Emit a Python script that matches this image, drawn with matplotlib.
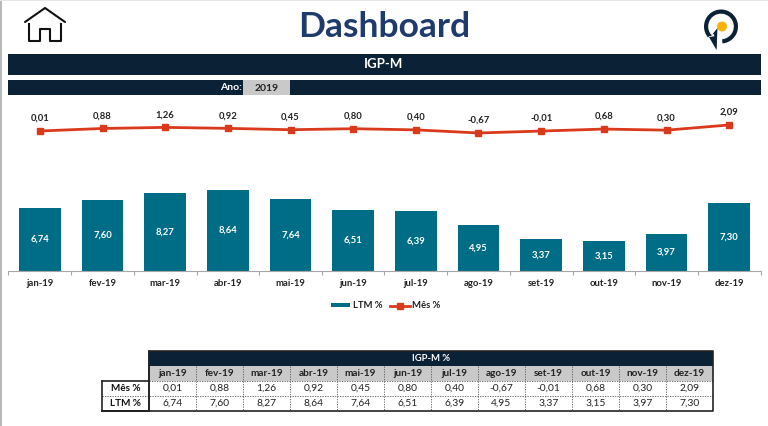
import matplotlib
matplotlib.use("Agg")
import matplotlib.pyplot as plt
from matplotlib.patches import Rectangle, Wedge, Polygon, Circle

months = ["jan-19","fev-19","mar-19","abr-19","mai-19","jun-19","jul-19","ago-19","set-19","out-19","nov-19","dez-19"]
ltm = [6.74,7.60,8.27,8.64,7.64,6.51,6.39,4.95,3.37,3.15,3.97,7.30]
mes = [0.01,0.88,1.26,0.92,0.45,0.80,0.40,-0.67,-0.01,0.68,0.30,2.09]
title = "Dashboard"
banner = "IGP-M"
year_label = "Ano:"
year = "2019"
table_title = "IGP-M %"
row_labels = ["Mês %", "LTM %"]

NAVY = "#0b2135"
TEAL = "#006d87"
RED = "#d93a1c"
W, H = 768, 426
plt.rcParams["font.family"] = ["Lato", "DejaVu Sans"]
fmt = lambda v: f"{v:.2f}".replace(".", ",")

fig = plt.figure(figsize=(W/100, H/100), dpi=100)
bg = fig.add_axes([0, 0, 1, 1])
bg.set_xlim(0, W); bg.set_ylim(H, 0); bg.axis("off")

# window edges
bg.add_patch(Rectangle((0, 0), 1.5, H, color="#b8b8b8", lw=0))
bg.add_patch(Rectangle((0, 0), W, 1.2, color="#e6e6e6", lw=0))

# header
bg.text(384, 27, title, color="#1f3a6c", fontsize=25.5, fontweight="bold", ha="center", va="center")
bg.add_patch(Rectangle((8, 53.5), 753, 21, color=NAVY, lw=0))
bg.text(384, 64, banner, color="white", fontsize=9.5, fontweight="bold", ha="center", va="center")
bg.add_patch(Rectangle((8, 80), 753, 15, color=NAVY, lw=0))
bg.add_patch(Rectangle((243, 80), 47, 15, color="#c9c9c9", lw=0))
bg.text(242, 88, year_label, color="white", fontsize=7.5, fontweight="bold", ha="right", va="center")
bg.text(267, 88.5, year, color="#222222", fontsize=7.5, fontweight="bold", ha="center", va="center")

# house icon
bg.plot([25, 45, 65], [22, 8, 22], color="#111111", lw=1.5, solid_capstyle="round", solid_joinstyle="miter")
bg.plot([29, 29, 40, 40, 50, 50, 61, 61], [24, 41, 41, 29, 29, 41, 41, 24], color="#111111", lw=1.5, solid_joinstyle="round")

# logo
bg.add_patch(Wedge((721, 26.5), 17, -220, 85, width=4.2, color=NAVY, lw=0))
bg.add_patch(Circle((722, 26.5), 5, color="#f9b208", lw=0))
bg.add_patch(Polygon([(714, 34), (716.5, 50), (717.5, 28), (711, 36), (707, 36)], color=NAVY, lw=0))
bg.add_patch(Polygon([(709, 37), (716.5, 50), (716.5, 36)], color=NAVY, lw=0))

# chart: pixel geometry of plot area
px_left, px_right, px_top, px_base = 8.5, 760.5, 100, 271
ax = fig.add_axes([px_left/W, 1-px_base/H, (px_right-px_left)/W, (px_base-px_top)/H])
ax.patch.set_alpha(0)
x = list(range(len(months)))
bars = ax.bar(x, ltm, width=0.67, color=TEAL, label="LTM %", zorder=2)
ax.set_xlim(-0.5, 11.5)
ax.set_ylim(0, (px_base-px_top)/9.375)
ax.set_yticks([])
ax.set_xticks(x, months, fontsize=6.8, fontweight="bold", color="#222222")
ax.set_xticks([i-0.5 for i in range(13)], minor=True)
ax.tick_params(axis="x", which="major", length=0, pad=6)
ax.tick_params(axis="x", which="minor", length=3, color="#a6a6a6", width=0.8)
for s in ["top", "left", "right"]:
    ax.spines[s].set_visible(False)
ax.spines["bottom"].set_color("#a6a6a6")
for xi, v in zip(x, ltm):
    ax.text(xi, v/2, fmt(v), color="white", fontsize=6.8, fontweight="bold", ha="center", va="center")

ax2 = ax.twinx()
ax2.patch.set_alpha(0)
scale = 2.9
ax2.set_ylim(0.01-(px_base-131)/scale, 0.01+(131-px_top)/scale)
ax2.axis("off")
line, = ax2.plot(x, mes, color=RED, lw=2, marker="s", ms=5, label="Mês %", zorder=3)
for xi, v in zip(x, mes):
    ax2.annotate(fmt(v), (xi, v), xytext=(0, 9), textcoords="offset points", fontsize=6.8,
                 fontweight="bold", color="#222222", ha="center", va="center")

leg = fig.legend(handles=[bars, line], labels=["LTM %", "Mês %"], loc="center", ncol=2,
                 bbox_to_anchor=(385.5/W, 1-306/H), frameon=False, fontsize=6.8,
                 handlelength=2.1, handletextpad=0.25, columnspacing=0.8, handleheight=0.35)
for t in leg.get_texts():
    t.set_fontweight("bold"); t.set_color("#222222")

# table
tx0, cw, lab0 = 149, 47, 102
ys = [351, 366, 381, 396, 411]
tx1 = tx0 + cw*len(months)
bg.add_patch(Rectangle((tx0, ys[0]), tx1-tx0, ys[1]-ys[0], color=NAVY, lw=0))
bg.add_patch(Rectangle((tx0, ys[1]), tx1-tx0, ys[2]-ys[1], color="#c9c9c9", lw=0))
bg.text((tx0+tx1)/2, (ys[0]+ys[1])/2, table_title, color="white", fontsize=6.8, fontweight="bold", ha="center", va="center")
for i, m in enumerate(months):
    cx = tx0 + cw*(i+0.5)
    bg.text(cx, (ys[1]+ys[2])/2, m, color="#222222", fontsize=7.2, fontweight="bold", ha="center", va="center")
    bg.text(cx, (ys[2]+ys[3])/2, fmt(mes[i]), color="#222222", fontsize=7.4, ha="center", va="center")
    bg.text(cx, (ys[3]+ys[4])/2, fmt(ltm[i]), color="#222222", fontsize=7.4, ha="center", va="center")
for j, lab in enumerate(row_labels):
    bg.text((lab0+tx0)/2, (ys[2+j]+ys[3+j])/2, lab, color="#111111", fontsize=7.2, fontweight="bold", ha="center", va="center")
for i in range(1, len(months)):
    bg.plot([tx0+cw*i]*2, [ys[1], ys[4]], color="#555555", lw=0.6, ls=(0, (1.5, 1.5)))
bg.plot([tx0, tx1], [ys[2]]*2, color="#555555", lw=0.6, ls=(0, (1.5, 1.5)))
bg.plot([lab0, tx1], [ys[3]]*2, color="#555555", lw=0.6, ls=(0, (1.5, 1.5)))
bg.plot([lab0, lab0, tx0, tx0, tx1, tx1, lab0], [ys[2], ys[4], ys[4], ys[0], ys[0], ys[4], ys[4]], color="#222222", lw=1.2)
bg.plot([lab0, tx0], [ys[2], ys[2]], color="#222222", lw=1.2)
bg.plot([tx0, tx0], [ys[0], ys[4]], color="#222222", lw=1.2)

fig.savefig("out.png", dpi=100)
